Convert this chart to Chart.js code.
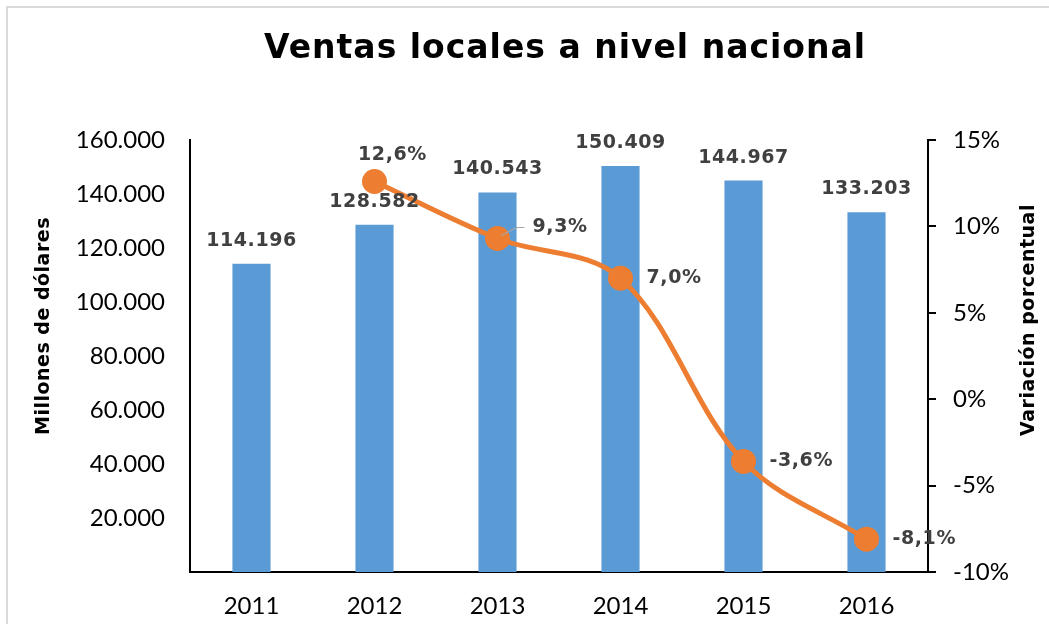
<!DOCTYPE html>
<html><head><meta charset="utf-8">
<script src="https://cdn.jsdelivr.net/npm/chart.js@4.4.0/dist/chart.umd.min.js"></script>
<style>
html,body{margin:0;padding:0;background:#fff;}
#wrap{position:relative;width:1049px;height:624px;overflow:hidden;}
#frame{position:absolute;left:6px;top:6px;width:1100px;height:700px;border-left:2px solid #d9d9d9;border-top:2px solid #d9d9d9;}
canvas{position:absolute;left:0;top:0;}
</style></head>
<body><div id="wrap"><div id="frame"></div><canvas id="c" width="1049" height="624"></canvas></div>
<script>
const chartTitle = 'Ventas locales a nivel nacional';
const leftAxisTitle = 'Millones de dólares';
const rightAxisTitle = 'Variación porcentual';
const years = ['2011','2012','2013','2014','2015','2016'];
const ventas = [114196,128582,140543,150409,144967,133203];
const variacion = [null,12.6,9.3,7.0,-3.6,-8.1];
const ventasLabels = ['114.196','128.582','140.543','150.409','144.967','133.203'];
const variacionLabels = [null,'12,6%','9,3%','7,0%','-3,6%','-8,1%'];

function fmtMiles(v){ return String(v).replace(/\B(?=(\d{3})+(?!\d))/g,'.'); }

const BLUE='#5B9BD5', ORANGE='#ED7D31', LABEL='#404040';

const labelPlugin = {
  id:'labels',
  afterDatasetsDraw(chart){
    const ctx = chart.ctx;
    ctx.save();
    ctx.font = 'bold 19px "DejaVu Sans"';
    ctx.fillStyle = LABEL;
    try{ ctx.letterSpacing = '0.6px'; }catch(e){}
    ctx.textBaseline = 'middle';
    const bm = chart.getDatasetMeta(1);
    bm.data.forEach((el,i)=>{
      ctx.textAlign='center';
      ctx.fillText(ventasLabels[i], el.x, el.y-23);
    });
    const lm = chart.getDatasetMeta(0);
    lm.data.forEach((el,i)=>{
      const t = variacionLabels[i];
      if(!t) return;
      if(i===1){
        ctx.textAlign='center';
        ctx.fillText(t, el.x+18, el.y-26);
      } else if(i===2){
        ctx.save();
        ctx.strokeStyle='#a6a6a6'; ctx.lineWidth=1.2;
        ctx.beginPath();
        ctx.moveTo(el.x+4, el.y-3);
        ctx.lineTo(el.x+19, el.y-11);
        ctx.lineTo(el.x+27, el.y-11);
        ctx.stroke();
        ctx.restore();
        ctx.textAlign='left';
        ctx.fillText(t, el.x+35, el.y-11);
      } else {
        ctx.textAlign='left';
        ctx.fillText(t, el.x+26, el.y);
      }
    });
    ctx.restore();
  },
  afterDraw(chart){
    const ctx = chart.ctx;
    ctx.save();
    ctx.fillStyle='#000';
    ctx.textAlign='center';
    ctx.textBaseline='middle';
    try{ ctx.letterSpacing = '1px'; }catch(e){}
    ctx.font='bold 33px "DejaVu Sans"';
    ctx.fillText(chartTitle, 565, 49);
    try{ ctx.letterSpacing = '0.5px'; }catch(e){}
    ctx.font='bold 19px "DejaVu Sans"';
    ctx.save();
    ctx.translate(44, 326);
    ctx.rotate(-Math.PI/2);
    ctx.fillText(leftAxisTitle, 0, 0);
    ctx.restore();
    ctx.save();
    ctx.translate(1029, 320);
    ctx.rotate(-Math.PI/2);
    ctx.fillText(rightAxisTitle, 0, 0);
    ctx.restore();
    ctx.restore();
  }
};

new Chart(document.getElementById('c'), {
  data:{
    labels: years,
    datasets:[
      { type:'line', data: variacion, yAxisID:'y2', order:0,
        borderColor: ORANGE, backgroundColor: ORANGE, borderWidth:5,
        pointRadius:10, pointHoverRadius:10, pointBackgroundColor: ORANGE, pointBorderColor: ORANGE,
        tension:0.35, spanGaps:false, fill:false },
      { type:'bar', data: ventas, yAxisID:'y', order:1,
        backgroundColor: BLUE, borderWidth:0,
        barPercentage:0.31, categoryPercentage:1.0 }
    ]
  },
  options:{
    responsive:false, animation:false,
    devicePixelRatio:1,
    layout:{ padding:{ top:140, left:0, right:0, bottom:0 } },
    plugins:{ legend:{display:false}, tooltip:{enabled:false}, title:{display:false} },
    scales:{
      x:{
        grid:{ display:false, drawTicks:false },
        border:{ display:true, color:'#000', width:2 },
        ticks:{ color:'#000', font:{ family:'Lato', size:24 }, padding:20, maxRotation:0 },
        afterFit(s){ s.height = 52; }
      },
      y:{
        position:'left', min:0, max:160000,
        grid:{ display:false, drawTicks:false },
        border:{ display:true, color:'#000', width:2 },
        ticks:{ stepSize:20000, color:'#000', font:{ family:'Lato', size:24 }, padding:25,
          callback:(v)=> v===0 ? '' : fmtMiles(v) },
        afterFit(s){ s.width = 190; }
      },
      y2:{
        position:'right', min:-10, max:15,
        grid:{ display:true, drawOnChartArea:false, drawTicks:true, tickLength:8, color:'#000', lineWidth:2 },
        border:{ display:true, color:'#000', width:2 },
        ticks:{ stepSize:5, color:'#000', font:{ family:'Lato', size:24 }, padding:17,
          callback:(v)=> v+'%' },
        afterFit(s){ s.width = 121; }
      }
    }
  },
  plugins:[labelPlugin]
});
</script>
</body></html>
